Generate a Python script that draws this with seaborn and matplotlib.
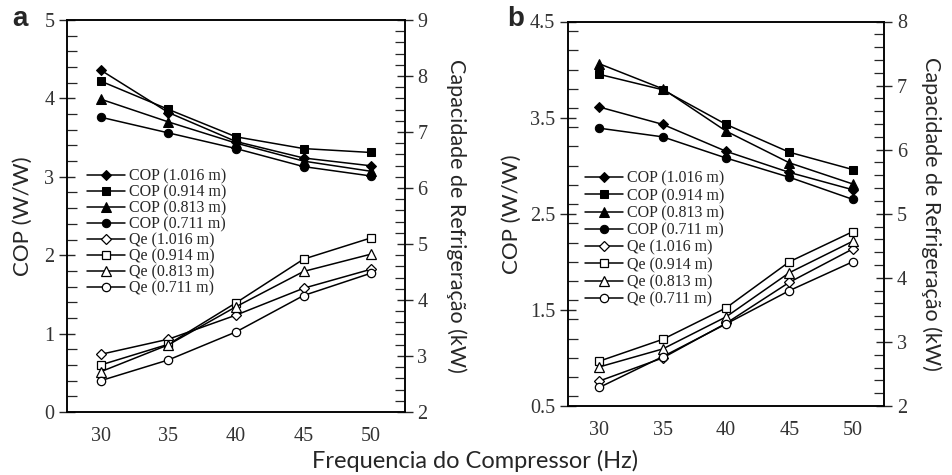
import matplotlib
matplotlib.use("Agg")
import matplotlib.pyplot as plt
import seaborn as sns
import pandas as pd
from matplotlib.ticker import MultipleLocator, FixedLocator

sns.set_style("ticks")
plt.rcParams['font.family'] = ['Lato', 'DejaVu Sans']

freq = [30, 35, 40, 45, 50]
diam = ["1.016", "0.914", "0.813", "0.711"]

# Panel a
a_cop_1016 = [4.36, 3.82, 3.45, 3.24, 3.14]
a_cop_0914 = [4.22, 3.86, 3.51, 3.36, 3.31]
a_cop_0813 = [3.99, 3.70, 3.43, 3.20, 3.07]
a_cop_0711 = [3.76, 3.56, 3.36, 3.13, 3.01]
a_qe_1016 = [3.03, 3.30, 3.73, 4.21, 4.55]
a_qe_0914 = [2.84, 3.21, 3.95, 4.73, 5.11]
a_qe_0813 = [2.72, 3.20, 3.88, 4.51, 4.82]
a_qe_0711 = [2.56, 2.93, 3.43, 4.08, 4.48]

# Panel b
b_cop_1016 = [3.61, 3.43, 3.15, 2.93, 2.75]
b_cop_0914 = [3.95, 3.79, 3.43, 3.14, 2.96]
b_cop_0813 = [4.06, 3.80, 3.36, 3.03, 2.81]
b_cop_0711 = [3.39, 3.30, 3.08, 2.88, 2.65]
b_qe_1016 = [2.39, 2.75, 3.29, 3.93, 4.45]
b_qe_0914 = [2.70, 3.04, 3.53, 4.25, 4.72]
b_qe_0813 = [2.61, 2.89, 3.39, 4.08, 4.57]
b_qe_0711 = [2.29, 2.77, 3.28, 3.80, 4.25]

markers = ['D', 's', '^', 'o']
msizes = [5, 6, 6.5, 6]

SERIF = ['Liberation Serif', 'DejaVu Serif']
TICKCOL = '#333333'

fig = plt.figure(figsize=(9.53, 4.75), dpi=100)


def draw_panel(rect, cops, qes, ylim_l, ylim_r, lmaj, lminor, rmaj, legpos, legsp,
               letter, letterpos, lpad_l, lpad_r):
    ax = fig.add_axes(rect)
    ax2 = ax.twinx()
    handles = []
    for i, d in enumerate(diam):
        sns.lineplot(x=freq, y=cops[i], ax=ax, color='black', marker=markers[i],
                     markersize=msizes[i], markerfacecolor='black', markeredgecolor='black',
                     linewidth=1.1, label=f"COP ({d} m)", legend=False)
        handles.append(ax.lines[-1])
    for i, d in enumerate(diam):
        sns.lineplot(x=freq, y=qes[i], ax=ax2, color='black', marker=markers[i],
                     markersize=msizes[i], markerfacecolor='white', markeredgecolor='black',
                     markeredgewidth=0.9, linewidth=1.1, label=f"Qe ({d} m)", legend=False)
        handles.append(ax2.lines[-1])
    ax.set_xlim(27.5, 52.5)
    ax.set_xticks(freq)
    ax.set_ylim(*ylim_l)
    ax2.set_ylim(*ylim_r)
    ax.yaxis.set_major_locator(FixedLocator(lmaj))
    ax.yaxis.set_minor_locator(MultipleLocator(lminor))
    ax2.yaxis.set_major_locator(FixedLocator(rmaj))
    ax2.yaxis.set_minor_locator(MultipleLocator(0.2))
    ax.tick_params(axis='x', length=0, pad=11, labelsize=14.5, labelcolor=TICKCOL)
    ax.tick_params(axis='y', which='major', direction='inout', length=12, width=1,
                   labelsize=14.5, labelcolor=TICKCOL, pad=3)
    ax.tick_params(axis='y', which='minor', direction='in', length=7, width=0.9)
    ax2.tick_params(axis='y', which='major', direction='inout', length=12, width=1,
                    labelsize=14.5, labelcolor=TICKCOL, pad=3)
    ax2.tick_params(axis='y', which='minor', direction='in', length=7, width=0.9)
    for a in (ax, ax2):
        for lab in a.get_xticklabels() + a.get_yticklabels():
            lab.set_family(SERIF)
        for s in a.spines.values():
            s.set_linewidth(1.1)
            s.set_color('black')
    ax.set_ylabel("COP (W/W)", fontsize=16, labelpad=lpad_l)
    ax2.set_ylabel("Capacidade de Refrigeração (kW)", fontsize=15.5, rotation=270,
                   labelpad=lpad_r)
    ax.set_xlabel("")
    ax2.legend(handles=handles, loc='upper left', bbox_to_anchor=legpos,
               frameon=False, borderpad=0, borderaxespad=0, labelspacing=legsp,
               handlelength=2.4, handletextpad=0.25, prop={'family': SERIF, 'size': 11.5})
    fig.text(letterpos[0], letterpos[1], letter, fontsize=20, fontweight='bold',
             ha='left', va='top', family=['Liberation Sans', 'DejaVu Sans'])
    return ax, ax2


draw_panel([67/953, 1-412/475, 338/953, 392/475],
           [a_cop_1016, a_cop_0914, a_cop_0813, a_cop_0711],
           [a_qe_1016, a_qe_0914, a_qe_0813, a_qe_0711],
           (0, 5), (2, 9), [0, 1, 2, 3, 4, 5], 0.2, [2, 3, 4, 5, 6, 7, 8, 9],
           (0.058, 0.622), 0.0, 'a', (12/953, 1-6/475), 8, 28)

draw_panel([567.7/953, 1-406/475, 316.6/953, 384.5/475],
           [b_cop_1016, b_cop_0914, b_cop_0813, b_cop_0711],
           [b_qe_1016, b_qe_0914, b_qe_0813, b_qe_0711],
           (0.5, 4.5), (2, 8), [0.5, 1.5, 2.5, 3.5, 4.5], 0.2, [2, 3, 4, 5, 6, 7, 8],
           (0.055, 0.612), 0.08, 'b', (507/953, 1-6/475), 6, 25)

fig.text(475/953, 1-461/475, "Frequencia do Compressor (Hz)", fontsize=17,
         ha='center', va='center')

fig.savefig("out.png", dpi=100)
